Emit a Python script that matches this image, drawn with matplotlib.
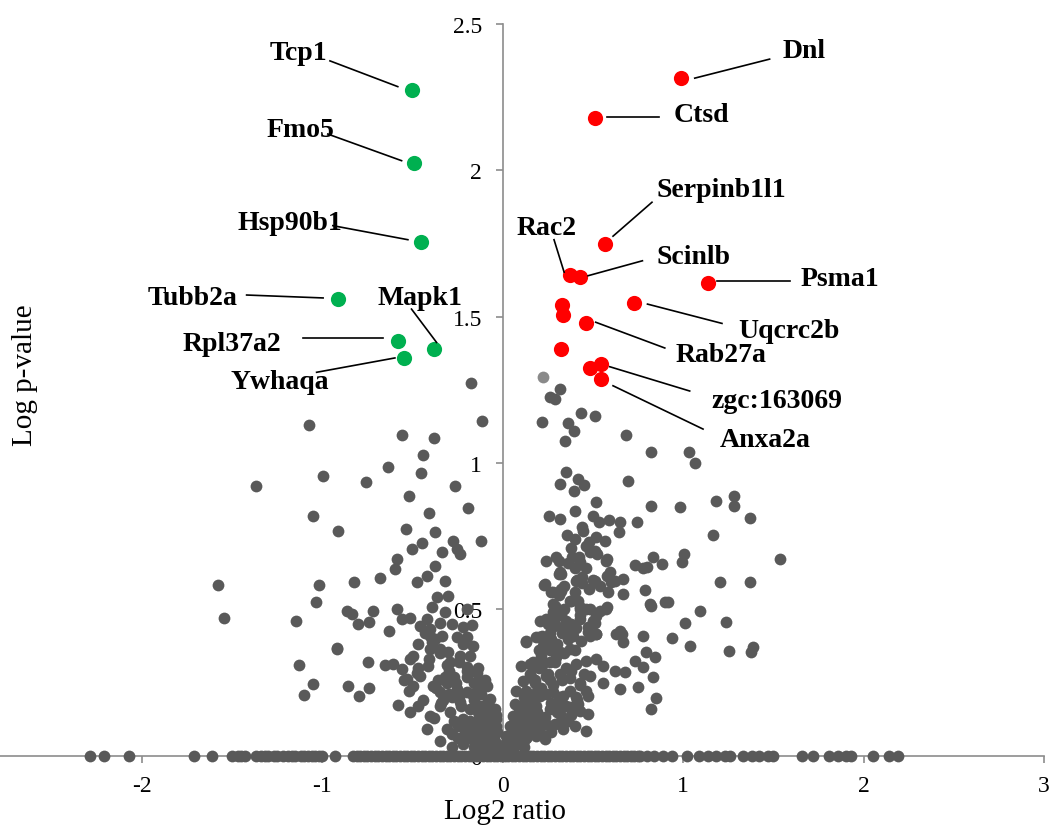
import numpy as np
import matplotlib
matplotlib.use('Agg')
import matplotlib.pyplot as plt
from matplotlib.ticker import FuncFormatter

plt.rcParams['font.family'] = ['Liberation Serif', 'DejaVu Serif']
plt.rcParams['axes.unicode_minus'] = False

# ---------------- data ----------------
# proteins with p-value ~ 1 (log p = 0), on the x axis
zero_x = [-2.29, -2.21, -2.07, -1.71, -1.61, -1.50, -1.47, -1.45, -1.43, -1.37, -1.34,
          -1.32, -1.30, -1.27, -1.25, -1.22, -1.19, -1.17, -1.15, -1.12, -1.10, -1.08,
          -1.06, -1.04, -1.02, -1.00, -0.93, -0.83, -0.81, -0.79, -0.77, -0.75, -0.73,
          -0.71, -0.69, -0.67, -0.65, -0.63, -0.61, -0.59, -0.57, -0.55, -0.53, -0.51,
          -0.49, -0.47, -0.45, -0.43, -0.41, -0.39, -0.37, -0.35, -0.33, -0.31, -0.29,
          -0.27, -0.25, -0.23, -0.21, -0.19, -0.17, -0.15, -0.13, -0.11, -0.09, -0.07,
          -0.05, -0.03, -0.01,
          0.01, 0.03, 0.05, 0.07, 0.09, 0.11, 0.13, 0.15, 0.17, 0.19, 0.21, 0.23, 0.25,
          0.27, 0.29, 0.31, 0.33, 0.35, 0.37, 0.39, 0.41, 0.43, 0.45, 0.47, 0.49, 0.51,
          0.53, 0.55, 0.57, 0.59, 0.61, 0.63, 0.65, 0.67, 0.69, 0.71, 0.73, 0.75, 0.76,
          0.80, 0.84, 0.89, 0.94, 1.02, 1.09, 1.14, 1.18, 1.23, 1.26, 1.33, 1.38, 1.42,
          1.47, 1.50, 1.66, 1.72, 1.81, 1.86, 1.90, 1.93, 2.05, 2.14, 2.19]

# down-regulated side, not significant
left_x = [-1.076, -0.996, -1.370, -1.051, -0.916, -1.581, -1.021, -1.036, -1.546, -1.147,
          -0.921, -1.129, -1.051, -1.101,
          -0.174, -0.113, -0.556, -0.383, -0.445, -0.639, -0.451, -0.756, -0.266, -0.519,
          -0.191, -0.408, -0.538, -0.377,
          -0.506, -0.450, -0.339, -0.275, -0.256, -0.238, -0.118, -0.589, -0.598, -0.681,
          -0.825, -0.478, -0.422, -0.376, -0.321, -0.367, -0.302, -0.866, -0.838, -0.801,
          -0.740, -0.722, -0.629, -0.589, -0.561, -0.515, -0.459, -0.422, -0.404, -0.395,
          -0.376, -0.349, -0.404, -0.339, -0.921, -0.746, -0.653, -0.607, -0.561, -0.515,
          -0.478, -0.413, -0.404, -0.349, -0.302, -0.256, -0.201, -0.168, -0.201, -0.164,
          -0.293, -0.238, -0.856, -0.795, -0.740, -0.579, -0.515, -0.533, -0.496, -0.459,
          -0.385, -0.349, -0.312, -0.256, -0.201, -0.145, -0.118, -0.201, -0.090, -0.072,
          -0.044, -0.469, -0.404, -0.349, -0.293, -0.238, -0.182, -0.127, -0.090, -0.219,
          -0.145, -0.072, -0.035, -0.284, -0.219, -0.164, -0.108, -0.053, -0.035, -0.090,
          -0.02, -0.04, -0.06, -0.03, -0.07, -0.12, -0.15, -0.18, -0.10, -0.13, -0.06,
          -0.20, -0.25, -0.03, -0.01, -0.33, -0.28, -0.24, -0.16, -0.09,
          -0.02, -0.05, -0.08, -0.11, -0.04, -0.07, -0.10, -0.13, -0.16, -0.06, -0.09,
          -0.12, -0.15, -0.19, -0.22, -0.08, -0.11, -0.14, -0.18, -0.21, -0.25, -0.28,
          -0.13, -0.17, -0.23, -0.27, -0.31, -0.35, -0.20, -0.26, -0.30, -0.34, -0.38,
          -0.42, -0.30, -0.36, -0.44, -0.52, -0.47, -0.41, -0.55, -0.37, -0.32,
          -0.04, -0.08, -0.12, -0.16, -0.20, -0.24, -0.10, -0.14, -0.18, -0.22, -0.27,
          -0.31, -0.35, -0.39, -0.43, -0.47, -0.50, -0.28, -0.32, -0.22]
left_y = [1.130, 0.955, 0.922, 0.820, 0.768, 0.584, 0.583, 0.525, 0.469, 0.460,
          0.367, 0.311, 0.245, 0.208,
          1.275, 1.142, 1.096, 1.085, 1.028, 0.985, 0.965, 0.934, 0.922, 0.886,
          0.847, 0.828, 0.774, 0.765,
          0.706, 0.726, 0.697, 0.734, 0.706, 0.689, 0.734, 0.672, 0.637, 0.606,
          0.594, 0.594, 0.615, 0.649, 0.598, 0.541, 0.544, 0.495, 0.484, 0.450,
          0.458, 0.495, 0.427, 0.501, 0.467, 0.469, 0.444, 0.467, 0.432, 0.507,
          0.398, 0.455, 0.410, 0.410, 0.364, 0.319, 0.309, 0.313, 0.296, 0.330,
          0.284, 0.307, 0.364, 0.364, 0.353, 0.404, 0.404, 0.446, 0.501, 0.376,
          0.319, 0.341, 0.239, 0.205, 0.233, 0.173, 0.148, 0.262, 0.239, 0.273,
          0.239, 0.216, 0.250, 0.227, 0.302, 0.284, 0.250, 0.216, 0.239, 0.193,
          0.159, 0.171, 0.136, 0.171, 0.148, 0.182, 0.159, 0.171, 0.136, 0.125,
          0.102, 0.102, 0.125, 0.074, 0.045, 0.068, 0.057, 0.068, 0.045, 0.034,
          0.02, 0.03, 0.02, 0.08, 0.05, 0.03, 0.05, 0.08, 0.10, 0.13, 0.11,
          0.10, 0.10, 0.01, 0.005, 0.19, 0.20, 0.20, 0.19, 0.16,
          0.03, 0.06, 0.04, 0.02, 0.10, 0.09, 0.07, 0.05, 0.03, 0.15, 0.13,
          0.11, 0.08, 0.06, 0.04, 0.19, 0.17, 0.15, 0.12, 0.08, 0.06, 0.03,
          0.23, 0.21, 0.17, 0.12, 0.09, 0.05, 0.27, 0.25, 0.21, 0.18, 0.13,
          0.09, 0.29, 0.26, 0.19, 0.22, 0.30, 0.33, 0.26, 0.23, 0.27,
          0.14, 0.18, 0.21, 0.25, 0.29, 0.32, 0.26, 0.30, 0.34, 0.38, 0.27,
          0.31, 0.35, 0.39, 0.42, 0.38, 0.34, 0.45, 0.49, 0.44]

# up-regulated side, not significant
right_x = [1.180, 1.282, 1.282, 1.372, 1.165, 1.535, 1.206, 1.372, 1.091, 1.235, 1.252,
           1.387, 1.378,
           0.316, 0.260, 0.288, 0.220, 0.362, 0.393, 0.436, 0.510, 0.343, 0.681, 0.824,
           1.032, 1.064, 0.349, 0.316, 0.417, 0.449, 0.393, 0.696, 0.519, 0.820, 0.985,
           0.257, 0.316, 0.403, 0.500, 0.534, 0.589, 0.648, 0.744, 0.356, 0.445, 0.519,
           0.565, 0.644, 0.238, 0.294, 0.310, 0.386, 0.427, 0.460, 0.482, 0.510, 0.571,
           0.580, 0.735, 0.777, 0.802, 0.833, 0.885, 1.003, 0.996, 0.229, 0.310, 0.412,
           0.510, 0.575, 0.602, 0.666, 0.266, 0.325, 0.583, 0.666, 0.787, 0.288, 0.427,
           0.464, 0.575, 0.814, 0.824, 0.898, 0.916, 0.205, 0.238, 0.283, 0.334, 0.408,
           0.510, 0.630, 0.648, 1.012, 0.131, 0.201, 0.390, 0.473, 0.519, 0.663, 0.666,
           0.777, 0.940, 1.036, 0.796, 0.842, 0.735, 0.620, 0.680, 0.777, 0.833, 0.648,
           0.750, 0.852, 0.824,
           0.279, 0.306, 0.417, 0.426, 0.482, 0.537, 0.574, 0.279, 0.380, 0.426, 0.500,
           0.519, 0.408, 0.509, 0.593, 0.620, 0.316, 0.232, 0.325,
           0.131, 0.186, 0.223, 0.315, 0.371, 0.436, 0.482, 0.519, 0.103, 0.149, 0.214,
           0.260, 0.297, 0.352, 0.408, 0.463, 0.519, 0.556, 0.112, 0.168, 0.242, 0.315,
           0.371, 0.426, 0.482, 0.556, 0.463, 0.075, 0.140, 0.205, 0.279, 0.334, 0.408,
           0.472, 0.066, 0.122, 0.186, 0.260, 0.306, 0.371, 0.417, 0.472, 0.057, 0.112,
           0.168, 0.232, 0.315, 0.362, 0.426, 0.038, 0.094, 0.149, 0.214, 0.288, 0.399,
           0.463, 0.020, 0.075, 0.131, 0.186, 0.232, 0.334, 0.011, 0.057, 0.112,
           0.01, 0.02, 0.03, 0.04, 0.06, 0.05, 0.08, 0.09, 0.12, 0.07, 0.10, 0.14, 0.16,
           0.03, 0.15, 0.18, 0.12, 0.20, 0.17,
           0.02, 0.04, 0.06, 0.08, 0.10, 0.12, 0.05, 0.07, 0.09, 0.11, 0.13, 0.15, 0.09,
           0.12, 0.14, 0.17, 0.19, 0.22, 0.13, 0.16, 0.19, 0.21, 0.24, 0.27, 0.18, 0.21,
           0.24, 0.27, 0.30, 0.33, 0.22, 0.25, 0.28, 0.31, 0.35, 0.38, 0.26, 0.29, 0.33,
           0.37, 0.41, 0.30, 0.34, 0.38, 0.43, 0.36, 0.40, 0.45, 0.25, 0.30, 0.35,
           0.15, 0.18, 0.21, 0.24, 0.27, 0.20, 0.23, 0.26, 0.29, 0.32, 0.35, 0.28, 0.31,
           0.34, 0.37, 0.40, 0.44, 0.32, 0.36, 0.40, 0.44, 0.48, 0.38, 0.42, 0.46, 0.50,
           0.54, 0.40, 0.44, 0.48, 0.52, 0.34, 0.38, 0.43, 0.47, 0.28, 0.33, 0.22, 0.26,
           0.19]
right_y = [0.871, 0.888, 0.854, 0.811, 0.754, 0.672, 0.594, 0.592, 0.495, 0.458, 0.359,
           0.370, 0.353,
           1.253, 1.224, 1.219, 1.141, 1.136, 1.110, 1.170, 1.162, 1.076, 1.096, 1.036,
           1.036, 0.999, 0.968, 0.928, 0.945, 0.925, 0.905, 0.940, 0.866, 0.854, 0.851,
           0.818, 0.809, 0.835, 0.820, 0.800, 0.806, 0.797, 0.800, 0.754, 0.769, 0.746,
           0.735, 0.763, 0.664, 0.678, 0.666, 0.680, 0.663, 0.717, 0.695, 0.700, 0.666,
           0.672, 0.653, 0.640, 0.644, 0.678, 0.655, 0.689, 0.663, 0.583, 0.621, 0.601,
           0.594, 0.615, 0.592, 0.604, 0.558, 0.570, 0.558, 0.552, 0.567, 0.512, 0.507,
           0.501, 0.507, 0.518, 0.512, 0.524, 0.526, 0.460, 0.466, 0.443, 0.438, 0.438,
           0.455, 0.415, 0.427, 0.455, 0.387, 0.404, 0.410, 0.422, 0.416, 0.416, 0.387,
           0.410, 0.401, 0.374, 0.353, 0.338, 0.325, 0.290, 0.285, 0.302, 0.268, 0.228,
           0.234, 0.196, 0.160,
           0.558, 0.495, 0.529, 0.501, 0.501, 0.495, 0.501, 0.461, 0.450, 0.467, 0.461,
           0.478, 0.598, 0.598, 0.626, 0.598, 0.626, 0.586, 0.563,
           0.393, 0.404, 0.376, 0.353, 0.364, 0.393, 0.410, 0.415, 0.307, 0.313, 0.330,
           0.319, 0.336, 0.301, 0.313, 0.324, 0.330, 0.307, 0.256, 0.262, 0.273, 0.279,
           0.267, 0.250, 0.273, 0.250, 0.222, 0.222, 0.210, 0.205, 0.216, 0.205, 0.199,
           0.205, 0.176, 0.182, 0.171, 0.159, 0.176, 0.165, 0.176, 0.142, 0.136, 0.136,
           0.142, 0.131, 0.142, 0.119, 0.153, 0.102, 0.102, 0.108, 0.102, 0.108, 0.102,
           0.085, 0.068, 0.074, 0.062, 0.068, 0.057, 0.091, 0.040, 0.034, 0.045,
           0.01, 0.03, 0.02, 0.05, 0.03, 0.08, 0.06, 0.09, 0.08, 0.12, 0.14, 0.11, 0.14,
           0.06, 0.20, 0.25, 0.20, 0.30, 0.32,
           0.04, 0.03, 0.06, 0.04, 0.05, 0.03, 0.10, 0.08, 0.12, 0.10, 0.06, 0.08, 0.16,
           0.14, 0.17, 0.12, 0.09, 0.07, 0.22, 0.19, 0.15, 0.13, 0.11, 0.08, 0.26, 0.23,
           0.21, 0.18, 0.15, 0.12, 0.31, 0.28, 0.24, 0.20, 0.17, 0.14, 0.36, 0.32, 0.26,
           0.22, 0.19, 0.38, 0.35, 0.29, 0.24, 0.40, 0.36, 0.28, 0.45, 0.48, 0.43,
           0.28, 0.31, 0.34, 0.37, 0.40, 0.36, 0.39, 0.42, 0.45, 0.48, 0.46, 0.52, 0.55,
           0.58, 0.53, 0.56, 0.59, 0.62, 0.66, 0.64, 0.61, 0.57, 0.71, 0.68, 0.64, 0.60,
           0.58, 0.74, 0.78, 0.73, 0.69, 0.50, 0.53, 0.48, 0.44, 0.49, 0.42, 0.41, 0.26,
           0.22]

# one lighter point just under the red group
pale_x = [0.223]
pale_y = [1.295]

# down-regulated, labelled
down_genes = ['Tcp1', 'Fmo5', 'Hsp90b1', 'Tubb2a', 'Rpl37a2', 'Mapk1', 'Ywhaqa']
down_x = [-0.502, -0.491, -0.454, -0.912, -0.580, -0.382, -0.547]
down_y = [2.275, 2.026, 1.754, 1.561, 1.416, 1.390, 1.359]

# up-regulated (two unlabelled ones and the zgc pair included)
up_x = [0.990, 0.510, 0.569, 0.371, 0.427, 1.136, 0.728, 0.329, 0.331, 0.464, 0.320,
        0.547, 0.486, 0.547]
up_y = [2.314, 2.178, 1.748, 1.642, 1.634, 1.614, 1.547, 1.540, 1.505, 1.478, 1.389,
        1.338, 1.323, 1.287]

# label text position and leader line end points: (text x, text y, x0, y0, x1, y1)
label_pos = {
    'Tcp1':       (-1.130, 2.404, -0.958, 2.374, -0.582, 2.286),
    'Fmo5':       (-1.119, 2.141, -0.970, 2.124, -0.561, 2.033),
    'Hsp90b1':    (-1.180, 1.823, -0.942, 1.811, -0.526, 1.763),
    'Tubb2a':     (-1.720, 1.567, -1.420, 1.574, -0.996, 1.564),
    'Mapk1':      (-0.460, 1.567, -0.506, 1.526, -0.367, 1.412),
    'Rpl37a2':    (-1.499, 1.407, -1.110, 1.426, -0.663, 1.426),
    'Ywhaqa':     (-1.235, 1.277, -1.032, 1.310, -0.598, 1.359),
    'Dnl':        (1.670, 2.408, 1.064, 2.315, 1.479, 2.380),
    'Ctsd':       (1.100, 2.192, 0.580, 2.183, 0.866, 2.183),
    'Serpinb1l1': (1.211, 1.936, 0.611, 1.775, 0.827, 1.891),
    'Rac2':       (0.244, 1.806, 0.284, 1.763, 0.340, 1.652),
    'Scinlb':     (1.055, 1.707, 0.473, 1.640, 0.774, 1.691),
    'Psma1':      (1.867, 1.629, 1.187, 1.623, 1.590, 1.623),
    'Uqcrc2b':    (1.584, 1.454, 0.802, 1.543, 1.215, 1.477),
    'Rab27a':     (1.208, 1.372, 0.515, 1.481, 0.898, 1.393),
    'zgc:163069': (1.518, 1.212, 0.593, 1.329, 1.036, 1.246),
    'Anxa2a':     (1.452, 1.082, 0.611, 1.264, 1.110, 1.116),
}

# ---------------- plot ----------------
W, H = 1050, 829
fig = plt.figure(figsize=(W / 100, H / 100), dpi=100)
ax = fig.add_axes([0, 1 - 756.7 / H, 1044 / W, (756.7 - 25) / H])

grey = '#595959'
dot = 72
big = 120
ax.scatter(zero_x, np.zeros(len(zero_x)), s=dot, color=grey, lw=0, zorder=3, clip_on=False)
ax.scatter(left_x, left_y, s=dot, color=grey, lw=0, zorder=3, clip_on=False)
ax.scatter(right_x, right_y, s=dot, color=grey, lw=0, zorder=3, clip_on=False)
ax.scatter(pale_x, pale_y, s=dot, color='#8a8a8a', lw=0, zorder=3)
ax.scatter(down_x, down_y, s=big, color='#00b050', lw=0, zorder=4)
ax.scatter(up_x, up_y, s=big, color='#ff0000', lw=0, zorder=4)

for name, (tx, ty, x0, y0, x1, y1) in label_pos.items():
    ax.plot([x0, x1], [y0, y1], color='black', lw=1.2, zorder=5)
    ax.text(tx, ty, name, ha='center', va='center', fontsize=20, fontweight='bold', zorder=6)

ax.set_xlim(-2.787, 3.0)
ax.set_ylim(0, 2.5)
ax.set_xticks([-2, -1, 0, 1, 2, 3])
ax.set_yticks([0, 0.5, 1, 1.5, 2, 2.5])
fmt = FuncFormatter(lambda v, p: ('%g' % v))
ax.xaxis.set_major_formatter(fmt)
ax.yaxis.set_major_formatter(fmt)

axis_col = '#8c8c8c'
ax.spines['left'].set_position(('data', 0))
ax.spines['top'].set_visible(False)
ax.spines['right'].set_visible(False)
for sp in ['left', 'bottom']:
    ax.spines[sp].set_color(axis_col)
    ax.spines[sp].set_linewidth(1.2)
    ax.spines[sp].set_zorder(2)
ax.tick_params(axis='both', direction='out', length=5, width=1.2, color=axis_col,
               labelsize=17, labelcolor='black')
ax.tick_params(axis='x', pad=9)
ax.tick_params(axis='y', pad=10)

fig.text(505 / W, 1 - 812 / H, 'Log2 ratio', ha='center', va='center', fontsize=21)
fig.text(25 / W, 1 - 375 / H, 'Log p-value', ha='center', va='center', fontsize=21,
         rotation=90)

fig.savefig('out.png', dpi=100)
